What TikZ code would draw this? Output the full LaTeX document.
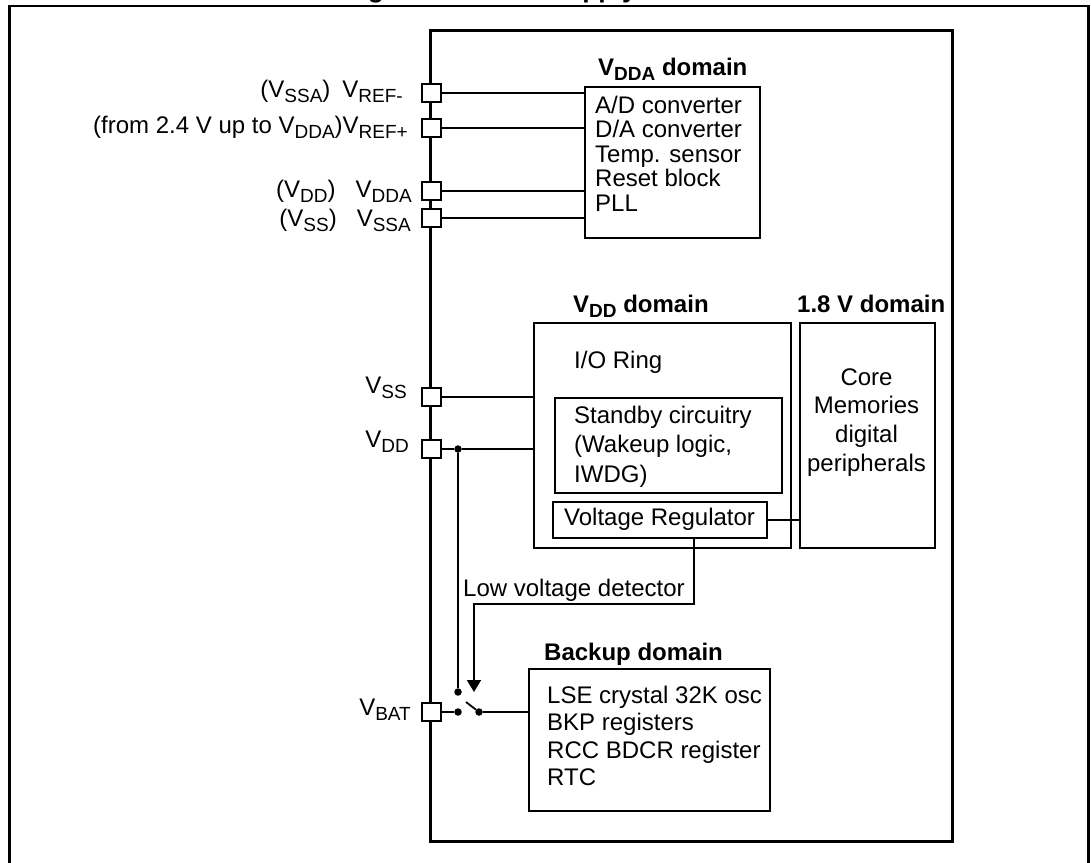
\documentclass[tikz,border=0pt]{standalone}
\usepackage{fontspec}
\setmainfont{Liberation Sans}
\usetikzlibrary{arrows.meta}
\newcommand\mysub[1]{\raisebox{-5.5pt}{\fontsize{19}{19}\selectfont #1}}
\tikzset{
  txt/.style={inner sep=0pt, font=\fontsize{24}{24}\selectfont},
  lbl/.style={inner sep=0pt, font=\bfseries\fontsize{24}{24}\selectfont},
  box/.style={draw, line width=2pt, inner sep=0pt, anchor=north west, fill=white},
  pin/.style={draw, line width=2pt, fill=white, inner sep=0pt, minimum width=19pt, minimum height=18pt},
  wire/.style={line width=1.8pt},
  dot/.style={circle, fill, inner sep=0pt, minimum size=7.5pt},
}
\begin{document}
\begin{tikzpicture}[x=1pt,y=-1pt]
\useasboundingbox (0,0) rectangle (1091,862);
% title (cut by the page top, as in the reference)
\node[inner sep=0pt, anchor=base west, font=\bfseries\fontsize{26.5}{26.5}\selectfont] (title) at (344,-2.5) {Figure 4. Power supply overview};
% outer border and chip frame
\draw[line width=2.2pt] (9.5,6) rectangle (1088.5,880);
\draw[line width=3pt] (430.5,30) rectangle (952.5,841);

% domain boxes
\node[box, minimum width=175pt, minimum height=151pt] (vdda) at (584,86) {};
\node[box, minimum width=257pt, minimum height=225pt] (vdd) at (533,322) {};
\node[box, minimum width=227pt, minimum height=95pt] (stby) at (554,397) {};
\node[box, minimum width=214pt, minimum height=36pt] (vreg) at (552,501) {};
\node[box, minimum width=135pt, minimum height=225pt] (core) at (799,322) {};
\node[box, minimum width=241pt, minimum height=142pt] (bkp) at (528,668) {};

% domain titles
\node[lbl, anchor=base west] (tvdda) at (598,75) {V\mysub{DDA} domain};
\node[lbl, anchor=base west] (tvdd) at (573,312) {V\mysub{DD} domain};
\node[lbl, anchor=base west] (tcore) at (797,312) {1.8 V domain};
\node[lbl, anchor=base west] (tbkp) at (544,660) {Backup domain};

% box contents
\foreach \t [count=\i] in {A/D converter,D/A converter,Temp. sensor,Reset block,PLL}
  \node[txt, anchor=base west] (ad\i) at (595,{113+(\i-1)*24.5}) {\t};
\node[txt, anchor=base west] (io) at (574,368) {I/O Ring};
\foreach \t [count=\i] in {Standby circuitry,{(Wakeup logic,},IWDG)}
  \node[txt, anchor=base west] (sb\i) at (574,{423+(\i-1)*29.5}) {\t};
\node[txt, anchor=base west] (vregt) at (564,525) {Voltage Regulator};
\foreach \t [count=\i] in {Core,Memories,digital,peripherals}
  \node[txt, anchor=base] (cr\i) at (866.5,{385+(\i-1)*28.7}) {\t};
\foreach \t [count=\i] in {LSE crystal 32K osc,BKP registers,RCC BDCR register,RTC}
  \node[txt, anchor=base west] (bk\i) at (547,{703+(\i-1)*27.5}) {\t};
\node[txt, anchor=base west] (lvd) at (463,596) {Low voltage detector};

% pins
\node[pin] (p1) at (431,93) {};
\node[pin] (p2) at (431,128) {};
\node[pin] (p3) at (431,191) {};
\node[pin] (p4) at (431,218) {};
\node[pin] (p5) at (431,397) {};
\node[pin] (p6) at (431,449) {};
\node[pin] (p7) at (431,712) {};

% pin labels
\node[txt, anchor=base east] (l1) at (403,97) {(V\mysub{SSA})\hspace{12pt}V\mysub{REF-}};
\node[txt, anchor=base east] (l2) at (408,133) {(from 2.4 V up to V\mysub{DDA})V\mysub{REF+}};
\node[txt, anchor=base east] (l3) at (412,197) {(V\mysub{DD})\hspace{20pt}V\mysub{DDA}};
\node[txt, anchor=base east] (l4) at (411,226) {(V\mysub{SS})\hspace{20pt}V\mysub{SSA}};
\node[txt, anchor=base east] (l5) at (407,393) {V\mysub{SS}};
\node[txt, anchor=base east] (l6) at (409,447) {V\mysub{DD}};
\node[txt, anchor=base east] (l7) at (411,715) {V\mysub{BAT}};

% switch parts
\node[dot] (jdd) at (458,449) {};
\node[dot] (sup) at (458,692) {};
\node[dot] (sbat) at (458,712) {};
\node[dot] (scom) at (479,712) {};
\coordinate (arm) at (466,702);
\coordinate (lvdA) at (694,604);
\coordinate (lvdB) at (474,604);
\coordinate (lvdT) at (474,692);

% wires
\draw[wire] (p1.east) -- (p1.east -| vdda.west);
\draw[wire] (p2.east) -- (p2.east -| vdda.west);
\draw[wire] (p3.east) -- (p3.east -| vdda.west);
\draw[wire] (p4.east) -- (p4.east -| vdda.west);
\draw[wire] (p5.east) -- (p5.east -| vdd.west);
\draw[wire] (p6.east) -- (jdd) -- (p6.east -| vdd.west);
\draw[wire] (jdd) -- (sup);
\draw[wire] (p7.east) -- (sbat);
\draw[wire] (scom) -- (arm);
\draw[wire] (scom) -- (scom -| bkp.west);
\draw[wire] (vreg.east) -- (vreg.east -| core.west);
\draw[wire, -{Triangle[width=14pt,length=12pt]}] (vreg.south -| lvdA) -- (lvdA) -- (lvdB) -- (lvdT);
\end{tikzpicture}
\end{document}
